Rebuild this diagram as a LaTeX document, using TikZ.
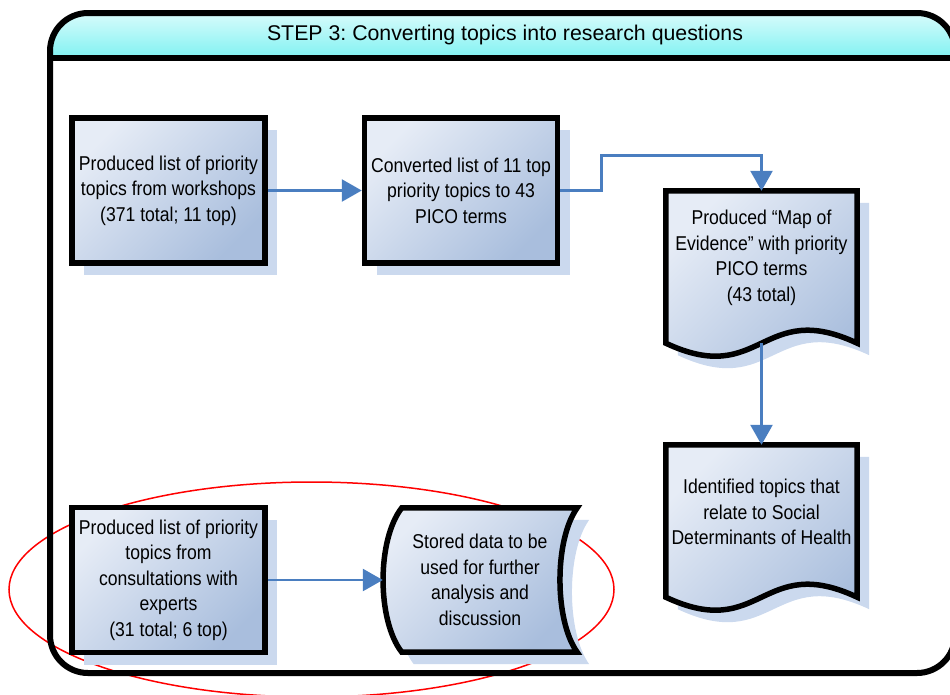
\documentclass[tikz,border=0pt]{standalone}
\usepackage{fontspec}
\setmainfont[FakeStretch=0.88]{Liberation Sans}
\newfontfamily\headfont{Liberation Sans}
\usetikzlibrary{arrows.meta,positioning,shadows,backgrounds}
\definecolor{boxlight}{HTML}{E6ECF6}
\definecolor{boxdark}{HTML}{A9BEDD}
\definecolor{shadowblue}{HTML}{CBD9EE}
\definecolor{arrowblue}{HTML}{4A7EC0}
\definecolor{headtop}{HTML}{D8FBFB}
\definecolor{headbot}{HTML}{80F2F2}
\frenchspacing

\begin{document}
\begin{tikzpicture}[x=1pt,y=-1pt,>={Triangle[length=20pt,width=22pt]},on grid,
    every node/.style={font=\fontsize{20}{25.5}\selectfont},
    boxshade/.style={draw=black,line width=5.5pt,top color=boxlight,bottom color=boxdark,shading angle=45,
      general shadow={fill=shadowblue,shadow xshift=12pt,shadow yshift=-12pt}},
    procbox/.style={rectangle,boxshade,minimum width=193pt,minimum height=145pt,align=center,inner sep=1pt},
    docbox/.style={rectangle,minimum width=191pt,minimum height=134pt,align=center,inner sep=1pt},
    storebox/.style={rectangle,minimum width=194pt,minimum height=144pt,align=center,inner sep=1pt},
    flowarrow/.style={->,draw=arrowblue,line width=2.6pt}]
  \useasboundingbox (0,0) rectangle (950,694);

  % frame with header band
  \begin{scope}
    \clip[rounded corners=38pt] (50,13) rectangle (955,673);
    \shade[top color=headtop,bottom color=headbot] (50,13) rectangle (955,58);
  \end{scope}
  \draw[line width=6pt,rounded corners=38pt] (50,13) rectangle (955,673);
  \draw[line width=6pt] (50,58) -- (955,58);
  \node[font=\headfont\fontsize{21.3}{25}\selectfont] (head) at (505,35) {STEP 3: Converting topics into research questions};

  % steps
  \node[procbox]  (A) at (168.5,190.5)   {Produced list of priority\\topics from workshops\\(371 total; 11 top)};
  \node[procbox]  (B) [right=292.5pt of A] {Converted list of 11 top\\priority topics to 43\\PICO terms};
  \node[docbox]   (C) at (761.5,258)     {Produced ``Map of\\Evidence'' with priority\\PICO terms\\(43 total)};
  \node[docbox]   (D) [below=254pt of C] {Identified topics that\\relate to Social\\Determinants of Health};
  \node[procbox]  (E) [below=389.5pt of A] {Produced list of priority\\topics from\\consultations with\\experts\\(31 total; 6 top)};
  \node[storebox] (F) [right=311.5pt of E] {Stored data to be\\used for further\\analysis and\\discussion};

  \begin{scope}[on background layer]
    \draw[red,line width=1.5pt] (311.5,589.5) ellipse [x radius=302.5,y radius=107.5];
    \foreach \d in {C,D}
      \draw[boxshade] (\d.north west) -- (\d.north east) -- ([yshift=-18pt]\d.south east)
        .. controls ([yshift=27pt]\d.south) and ([yshift=-63pt]\d.south) .. ([yshift=-18pt]\d.south west) -- cycle;
    \draw[boxshade] ([xshift=19pt]F.north west) -- (F.north east)
      .. controls ([xshift=-23pt,yshift=-32pt]F.north east) and ([xshift=-23pt,yshift=32pt]F.south east) .. (F.south east)
      -- ([xshift=19pt]F.south west)
      .. controls ([xshift=-6pt,yshift=32pt]F.south west) and ([xshift=-6pt,yshift=-32pt]F.north west) .. cycle;
  \end{scope}

  % connectors
  \draw[flowarrow] (A) -- (B);
  \draw[flowarrow] (B.east) -| ++(41,-35) -| (C.north);
  \draw[flowarrow] ([yshift=-18pt]C.south) -- (D.north);
  \draw[flowarrow] (E) -- (F.west);
\end{tikzpicture}
\end{document}
